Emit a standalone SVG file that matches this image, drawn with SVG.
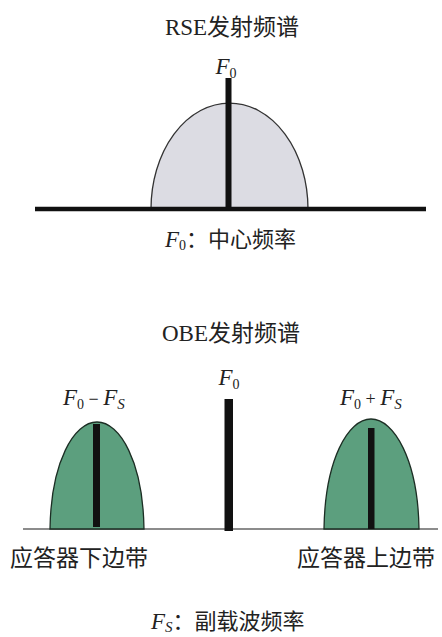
<svg xmlns="http://www.w3.org/2000/svg" width="442" height="637" viewBox="0 0 442 637">
<style>
.t{font-family:"Liberation Serif","Noto Sans CJK SC",serif;fill:#222;}
.cn{font-family:"Noto Sans CJK SC","Liberation Sans",sans-serif;fill:#222;}
.fi{font-family:"Liberation Serif",serif;font-style:italic;fill:#222;}
.sub{font-style:normal;font-size:14px;}
.subi{font-style:italic;font-size:15px;}
.gray{fill:#dcdce3;stroke:#333;stroke-width:1.3;}
.green{fill:#5c9f7e;stroke:#1c2e24;stroke-width:1.3;}
.bar{fill:#111;}
</style>
<rect width="442" height="637" fill="#fff"/>
<g id="rse">
<text class="t" x="232" y="35" font-size="23" text-anchor="middle">RSE发射频谱</text>
<path class="gray" d="M151,209 A78.5,106 0 0 1 308,209 Z"/>
<rect class="bar" x="225.5" y="78" width="6" height="132"/>
<text class="fi" x="226" y="74" font-size="23" text-anchor="middle">F<tspan class="sub" dy="4">0</tspan></text>
<line x1="35" y1="209" x2="426" y2="209" stroke="#111" stroke-width="4.5"/>
<text x="165" y="247" font-size="22"><tspan class="fi" font-size="23">F</tspan><tspan class="fi sub" dy="3">0</tspan><tspan class="cn" dy="-3">：中心频率</tspan></text>
</g>
<g id="obe">
<text class="t" x="231" y="341" font-size="23" text-anchor="middle">OBE发射频谱</text>
<line x1="23" y1="529" x2="438" y2="529" stroke="#666" stroke-width="1.6"/>
<path class="green" d="M50,529 C51,462 74,422 97,422 C120,422 143,462 144,529 Z"/>
<rect class="bar" x="93" y="424" width="7" height="103"/>
<path class="green" d="M324,529 C325,460 348,419 371,419 C394,419 418,460 419,529 Z"/>
<rect class="bar" x="368" y="428" width="6.5" height="101"/>
<rect class="bar" x="224.5" y="399" width="8.5" height="132"/>
<text class="fi" x="229" y="385" font-size="23" text-anchor="middle">F<tspan class="sub" dy="4">0</tspan></text>
<text x="63" y="405" font-size="23"><tspan class="fi">F</tspan><tspan class="fi sub" dy="4">0</tspan><tspan class="t" dy="-4" font-size="18"> − </tspan><tspan class="fi">F</tspan><tspan class="fi subi" dy="4">S</tspan></text>
<text x="340" y="405" font-size="23"><tspan class="fi">F</tspan><tspan class="fi sub" dy="4">0</tspan><tspan class="t" dy="-4" font-size="18"> + </tspan><tspan class="fi">F</tspan><tspan class="fi subi" dy="4">S</tspan></text>
<text class="cn" x="10" y="566" font-size="23">应答器下边带</text>
<text class="cn" x="297" y="566" font-size="23">应答器上边带</text>
<text x="151" y="629" font-size="22"><tspan class="fi" font-size="23">F</tspan><tspan class="fi subi" dy="3">S</tspan><tspan class="cn" dy="-3">：副载波频率</tspan></text>
</g>
</svg>
